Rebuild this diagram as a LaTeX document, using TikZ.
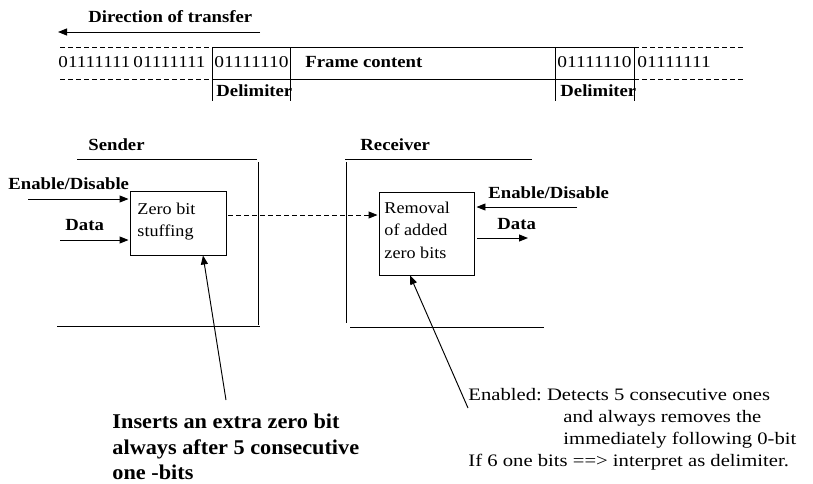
\documentclass[tikz,border=0pt]{standalone}
\usepackage{fontspec}
\setmainfont{Liberation Serif}[FakeStretch=1.1]
\newfontfamily\rfont{Liberation Serif}[FakeStretch=1.18]
\newfontfamily\bfont{Liberation Serif}[FakeStretch=1.06]
\frenchspacing
\usetikzlibrary{arrows.meta}
\newcommand{\wdig}[2][1.07]{\scalebox{#1}[1]{#2}}
\begin{document}
\begin{tikzpicture}[x=1pt,y=-1pt, line width=0.95pt,
  txt/.style={inner sep=0pt, anchor=base west, font=\fontsize{16.5}{18}\selectfont},
  btxt/.style={inner sep=0pt, anchor=base west, font=\fontsize{17}{18}\selectfont\bfseries},
  bigb/.style={inner sep=0pt, anchor=base west, font=\bfont\fontsize{21}{24}\selectfont\bfseries},
  note/.style={inner sep=0pt, anchor=base west, font=\rfont\fontsize{17.5}{20}\selectfont},
  box/.style={draw, inner sep=0pt},
  arr/.style={-{Triangle[length=9pt,width=7pt]}},
  dsh/.style={dash pattern=on 5pt off 3pt}]
\useasboundingbox (0,0) rectangle (813,483);

% direction of transfer
\node[btxt] (dir) at (88,22.5) {Direction of transfer};
\coordinate (dirS) at (260,32);
\coordinate (dirE) at (58,32);
\draw[arr] (dirS) -- (dirE);

% frame strip
\draw[dsh] (60,47) -- (212,47);
\draw (212,47) -- (634,47);
\draw[dsh] (634,47) -- (745,47);
\draw[dsh] (60,79) -- (212,79);
\draw (212,79) -- (634,79);
\draw[dsh] (634,79) -- (745,79);
\foreach \x in {212,290,555,634} \draw (\x,48) -- (\x,101);

\node[txt] (b1) at (58,67) {\wdig[1.05]{01111111}};
\node[txt] (b0) at (133,67) {\wdig[1.05]{01111111}};
\node[txt] (d1) at (214,67) {\wdig{01111110}};
\node[btxt] (fc) at (305,67) {Frame content};
\node[txt] (d2) at (557,67) {\wdig{01111110}};
\node[txt] (b2) at (637,67) {\wdig{01111111}};
\node[btxt] (dl1) at (216,96.5) {Delimiter};
\node[btxt] (dl2) at (560,96.5) {Delimiter};

% sender
\node[btxt] (snd) at (88,150.5) {Sender};
\draw (77,159) -- (257,159);
\draw (258,162) -- (258,325);
\draw (57,326) -- (260,326);

% receiver
\node[btxt] (rcv) at (360,150.5) {Receiver};
\draw (345,159) -- (532,159);
\draw (346,162) -- (346,323);
\draw (350,327) -- (544,327);

% boxes
\node[box, minimum width=96pt, minimum height=64pt] (zb) at (178,223) {};
\node[txt] (zbt1) at (137,214) {Zero bit};
\node[txt] (zbt2) at (137,236) {stuffing};

\node[box, minimum width=95pt, minimum height=83pt] (rm) at (426.5,233.5) {};
\node[txt] (rmt1) at (384,213) {Removal};
\node[txt] (rmt2) at (384,235) {of added};
\node[txt] (rmt3) at (384,258) {zero bits};

% sender inputs
\node[btxt] (en1) at (8,189) {Enable/Disable};
\coordinate (en1s) at (28,199);
\draw[arr, shorten >=1pt] (en1s) -- (en1s -| zb.west);
\node[btxt] (da1) at (65,230) {Data};
\coordinate (da1s) at (60,240);
\draw[arr, shorten >=1pt] (da1s) -- (da1s -| zb.west);

% link
\coordinate (lk) at (0,215);
\draw[arr, dsh, shorten <=2pt, shorten >=1pt] (zb.east |- lk) -- (rm.west |- lk);

% receiver in/out
\node[btxt] (en2) at (488,198) {Enable/Disable};
\coordinate (en2s) at (577,207);
\draw[arr, shorten >=2pt] (en2s) -- (en2s -| rm.east);
\node[btxt] (da2) at (497,229) {Data};
\coordinate (da2e) at (528,238);
\draw[arr, shorten <=3pt] (da2e -| rm.east) -- (da2e);

% pointers
\coordinate (p1) at (226,400);
\draw[arr] (p1) -- ([xshift=25pt]zb.south);
\coordinate (p2) at (468,408);
\draw[arr] (p2) -- ([xshift=-16.5pt]rm.south);

% notes
\node[bigb] (n1) at (112,428) {Inserts an extra zero bit};
\node[bigb] (n2) at (112,454) {always after 5 consecutive};
\node[bigb] (n3) at (112,479) {one -bits};

\node[note] (m1) at (468,400) {Enabled: Detects 5 consecutive ones};
\node[note] (m2) at (563,422) {and always removes the};
\node[note] (m3) at (563,444) {immediately following 0-bit};
\node[note] (m4) at (468,466) {If 6 one bits ==> interpret as delimiter.};
\end{tikzpicture}
\end{document}
